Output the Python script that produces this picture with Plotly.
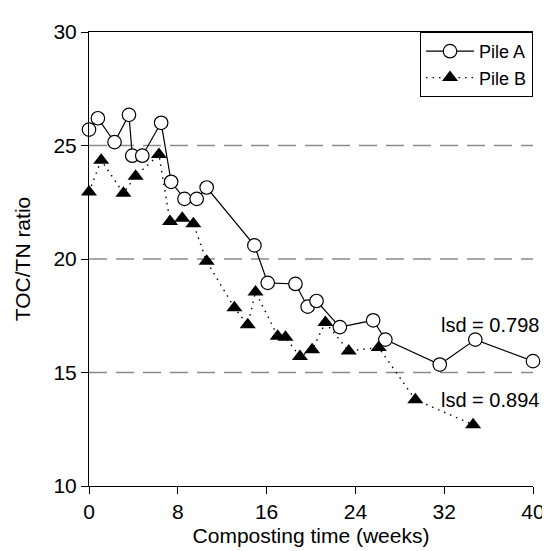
import plotly.graph_objects as go

pile_a_x = [0, 0.8, 2.3, 3.6, 3.9, 4.8, 6.5, 7.4, 8.6, 9.7, 10.6, 14.9, 16.1, 18.6, 19.7, 20.5, 22.6, 25.6, 26.7, 31.6, 34.8, 40]
pile_a_y = [25.7, 26.2, 25.15, 26.35, 24.55, 24.55, 26.0, 23.4, 22.65, 22.65, 23.15, 20.6, 18.95, 18.9, 17.9, 18.15, 17.0, 17.3, 16.45, 15.35, 16.45, 15.5]

pile_b_x = [0, 1.1, 3.1, 4.2, 6.3, 7.3, 8.4, 9.4, 10.6, 13.1, 14.3, 15.0, 17.0, 17.7, 19.0, 20.1, 21.3, 23.4, 26.1, 29.4, 34.6]
pile_b_y = [22.95, 24.35, 22.9, 23.65, 24.6, 21.65, 21.8, 21.55, 19.9, 17.85, 17.1, 18.55, 16.6, 16.55, 15.7, 16.0, 17.2, 15.95, 16.1, 13.8, 12.7]

x_ticks = [0, 8, 16, 24, 32, 40]
y_ticks = [10, 15, 20, 25, 30]
grid_levels = [15, 20, 25]

FONT = "Liberation Sans, Arial, sans-serif"

fig = go.Figure()
fig.add_trace(go.Scatter(
    x=pile_a_x, y=pile_a_y, name="Pile A", mode="lines+markers",
    line=dict(color="black", width=1.2),
    marker=dict(symbol="circle", size=13.5, color="white", line=dict(color="black", width=1.2)),
    cliponaxis=False,
))
fig.add_trace(go.Scatter(
    x=pile_b_x, y=pile_b_y, name="Pile B", mode="lines+markers",
    line=dict(color="black", width=1.4, dash="1.5px,5px"),
    marker=dict(symbol="triangle-up", size=14, color="black", line=dict(width=0)),
    cliponaxis=False,
))

for g in grid_levels:
    fig.add_shape(type="line", xref="paper", x0=0, x1=1, yref="y", y0=g, y1=g,
                  line=dict(color="#8a8a8a", width=1.5, dash="18px,9px"), layer="below")

fig.add_annotation(x=36.1, y=17.1, text="lsd = 0.798", showarrow=False,
                   font=dict(size=20, color="black", family=FONT))
fig.add_annotation(x=36.1, y=13.8, text="lsd = 0.894", showarrow=False,
                   font=dict(size=20, color="black", family=FONT))

fig.update_layout(
    width=550, height=551,
    margin=dict(l=81, r=25, t=16, b=73),
    plot_bgcolor="white", paper_bgcolor="white",
    font=dict(family=FONT, size=21, color="black"),
    showlegend=True,
    legend=dict(x=1, y=1, xanchor="right", yanchor="top",
                bordercolor="black", borderwidth=1, bgcolor="white",
                font=dict(size=18), tracegroupgap=0, itemwidth=48),
    xaxis=dict(range=[0, 40], tickvals=x_ticks, showgrid=False, zeroline=False,
               showline=True, linecolor="black", linewidth=1, mirror=True,
               ticks="outside", ticklen=7, tickcolor="black",
               title=dict(text="Composting time (weeks)", standoff=6, font=dict(size=21))),
    yaxis=dict(range=[10, 30], tickvals=y_ticks, showgrid=False, zeroline=False,
               showline=True, linecolor="black", linewidth=1,
               ticks="outside", ticklen=7, tickcolor="black",
               title=dict(text="TOC/TN ratio", standoff=17, font=dict(size=21))),
)

fig.write_html("out.html")
